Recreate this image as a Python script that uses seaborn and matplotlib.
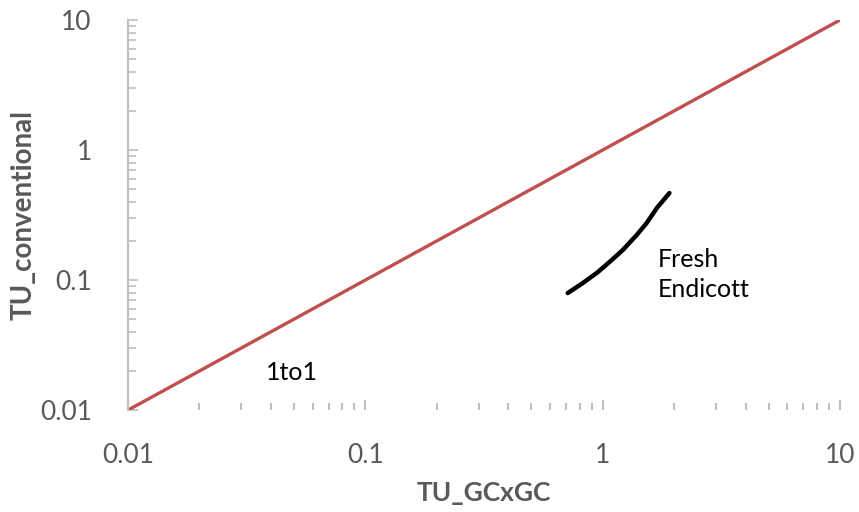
import matplotlib
matplotlib.use("Agg")
import matplotlib.pyplot as plt
import seaborn as sns
import pandas as pd
from matplotlib.ticker import LogLocator, FixedLocator, FuncFormatter, NullFormatter

# 1:1 reference line
one_to_one_x = [0.01, 10]
one_to_one_y = [0.01, 10]

# Fresh Endicott trend
endicott_x = [0.712, 0.824, 0.953, 1.091, 1.214, 1.39, 1.53, 1.69, 1.91]
endicott_y = [0.0794, 0.0948, 0.115, 0.1425, 0.170, 0.222, 0.274, 0.358, 0.467]

tick_values = [0.01, 0.1, 1, 10]
tick_labels = ["0.01", "0.1", "1", "10"]

sns.set_style("white")
plt.rcParams["font.family"] = ["Lato", "DejaVu Sans"]

grey = "#595959"
axis_grey = "#BFBFBF"

fig = plt.figure(figsize=(8.59, 5.12), dpi=100)
ax = fig.add_axes([0.149, 0.199, 0.829, 0.762])

ref = pd.DataFrame({"x": one_to_one_x, "y": one_to_one_y})
cur = pd.DataFrame({"x": endicott_x, "y": endicott_y})

sns.lineplot(data=ref, x="x", y="y", ax=ax, color="#C0504D", linewidth=2.4,
             sort=False, estimator=None)
sns.lineplot(data=cur, x="x", y="y", ax=ax, color="black", linewidth=3.2,
             sort=False, estimator=None)

ax.set_xscale("log")
ax.set_yscale("log")
ax.set_xlim(0.01, 10)
ax.set_ylim(0.01, 10)

ax.xaxis.set_major_locator(FixedLocator(tick_values))
ax.yaxis.set_major_locator(FixedLocator(tick_values))
fmt = FuncFormatter(lambda v, p: tick_labels[tick_values.index(v)] if v in tick_values else "")
ax.xaxis.set_major_formatter(fmt)
ax.yaxis.set_major_formatter(fmt)
ax.xaxis.set_minor_locator(LogLocator(base=10, subs=range(2, 10)))
ax.yaxis.set_minor_locator(LogLocator(base=10, subs=range(2, 10)))
ax.xaxis.set_minor_formatter(NullFormatter())
ax.yaxis.set_minor_formatter(NullFormatter())

for s in ["top", "right", "bottom"]:
    ax.spines[s].set_visible(False)
ax.spines["left"].set_color(axis_grey)
ax.spines["left"].set_linewidth(1.5)

ax.tick_params(axis="x", which="both", bottom=True, direction="in", color=axis_grey,
               width=1.5, labelsize=19, labelcolor=grey, pad=24)
ax.tick_params(axis="x", which="major", length=7)
ax.tick_params(axis="x", which="minor", length=5)
ax.tick_params(axis="y", which="both", left=True, direction="in", color=axis_grey,
               width=1.2, labelsize=19, labelcolor=grey, pad=26)
ax.tick_params(axis="y", which="major", length=7)
ax.tick_params(axis="y", which="minor", length=6)

ax.set_xlabel("TU_GCxGC", fontsize=19, fontweight="bold", color=grey, labelpad=9)
ax.set_ylabel("TU_conventional", fontsize=20, fontweight="bold", color=grey, labelpad=2)

ax.text(0.038, 0.0196, "1to1", fontsize=18, color="black", va="center", ha="left")
ax.text(1.70, 0.110, "Fresh\nEndicott", fontsize=18, color="black", va="center",
        ha="left", linespacing=1.35)

fig.savefig("out.png", dpi=100)
